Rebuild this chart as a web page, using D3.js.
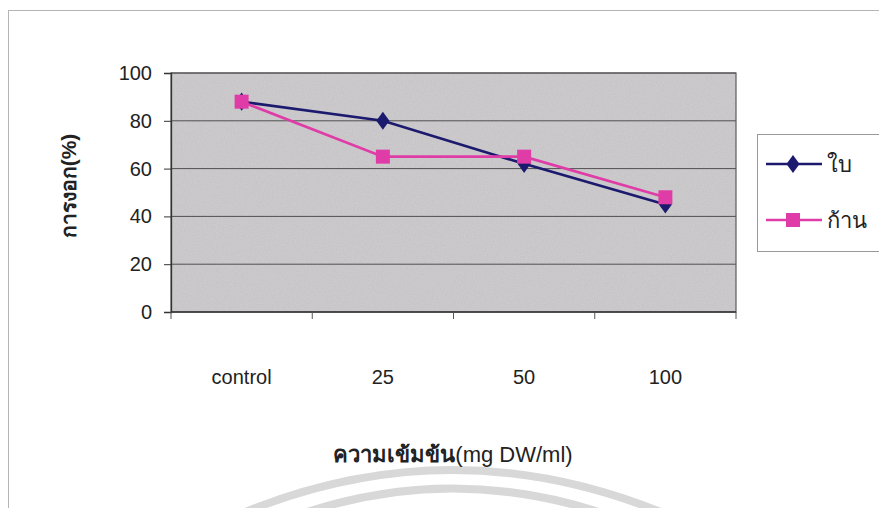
<!DOCTYPE html>
<html>
<head>
<meta charset="utf-8">
<script src="https://cdn.jsdelivr.net/npm/d3@7"></script>
<style>
  html, body { margin: 0; padding: 0; background: #fff; }
  svg { display: block; }
  text { font-family: "Liberation Sans", Arial, "Noto Sans", sans-serif; fill: #222; }
</style>
</head>
<body>
<svg id="chart" width="879" height="508"></svg>
<script>
// Germination (%) by extract concentration, leaf vs stem
const categories = ["control", "25", "50", "100"];
const leafValues = [88, 80, 62, 45];   // ใบ
const stemValues = [88, 65, 65, 48];   // ก้าน
const yTicks = [0, 20, 40, 60, 80, 100];
const seriesNames = ["ใบ", "ก้าน"];
const seriesColors = ["#1c1a6e", "#e03ca8"];

const svg = d3.select("#chart");
const W = 879, H = 508;
const plot = { left: 171, right: 736, top: 73, bottom: 312 };

// faint watermark arcs at the bottom of the page
const wm = svg.append("g").attr("fill", "none").attr("stroke", "#d8d8d8").attr("stroke-width", 8);
wm.append("path").attr("d", "M 238 515 Q 452 425 668 515");
wm.append("path").attr("d", "M 298 515 Q 452 462 608 515");

// outer chart frame
svg.append("rect").attr("x", 8.5).attr("y", 10.5).attr("width", W).attr("height", H)
  .attr("fill", "none").attr("stroke", "#b5b5b5").attr("stroke-width", 1);

const x = d3.scaleBand().domain(categories).range([plot.left, plot.right]);
const y = d3.scaleLinear().domain([0, 100]).range([plot.bottom, plot.top]);

// plot area background with a light grain
const defs = svg.append("defs");
const flt = defs.append("filter").attr("id", "grain").attr("x", 0).attr("y", 0).attr("width", 1).attr("height", 1);
flt.append("feTurbulence").attr("type", "fractalNoise").attr("baseFrequency", 0.9).attr("numOctaves", 2).attr("seed", 4).attr("result", "n");
flt.append("feColorMatrix").attr("in", "n").attr("type", "matrix")
  .attr("values", "0 0 0 0 0.80  0 0 0 0 0.79  0 0 0 0 0.80  0 0 0 0.35 0").attr("result", "c");
flt.append("feComposite").attr("in", "c").attr("in2", "SourceGraphic").attr("operator", "in").attr("result", "m");
flt.append("feMerge").selectAll("feMergeNode").data(["SourceGraphic", "m"]).enter()
  .append("feMergeNode").attr("in", d => d);

svg.append("rect")
  .attr("x", plot.left).attr("y", plot.top)
  .attr("width", plot.right - plot.left).attr("height", plot.bottom - plot.top)
  .attr("fill", "#c3c1c3").attr("filter", "url(#grain)");

// horizontal gridlines
svg.append("g").selectAll("line").data(yTicks.filter(t => t > 0)).enter().append("line")
  .attr("x1", plot.left).attr("x2", plot.right)
  .attr("y1", d => y(d)).attr("y2", d => y(d))
  .attr("stroke", "#505050").attr("stroke-width", 1);

// plot border
svg.append("rect")
  .attr("x", plot.left).attr("y", plot.top)
  .attr("width", plot.right - plot.left).attr("height", plot.bottom - plot.top)
  .attr("fill", "none").attr("stroke", "#5a5a5a").attr("stroke-width", 1.2);

// y axis
const yAxis = d3.axisLeft(y).tickValues(yTicks).tickSize(7).tickPadding(12);
const gy = svg.append("g").attr("transform", `translate(${plot.left},0)`).call(yAxis);
gy.select(".domain").attr("stroke", "#333").attr("stroke-width", 1.3);
gy.selectAll(".tick line").attr("stroke", "#333");
gy.selectAll(".tick text").attr("font-size", 20).style("fill", "#222")
  .attr("font-family", "Liberation Sans, Arial, sans-serif");

// x axis: ticks on band boundaries, labels under band centres
const gx = svg.append("g").attr("transform", `translate(0,${plot.bottom})`);
gx.append("line").attr("x1", plot.left).attr("x2", plot.right).attr("y1", 0).attr("y2", 0)
  .attr("stroke", "#333").attr("stroke-width", 1.3);
const bounds = categories.map(c => x(c)).concat([x(categories[categories.length - 1]) + x.bandwidth()]);
gx.selectAll("line.tk").data(bounds).enter().append("line").attr("class", "tk")
  .attr("x1", d => d).attr("x2", d => d).attr("y1", 0).attr("y2", 7)
  .attr("stroke", "#555");
gx.selectAll("text").data(categories).enter().append("text")
  .attr("x", d => x(d) + x.bandwidth() / 2).attr("y", 72)
  .attr("text-anchor", "middle").attr("font-size", 20).text(d => d);

// axis titles
svg.append("text").attr("transform", "translate(76,186) rotate(-90)")
  .attr("text-anchor", "middle").attr("font-size", 21).attr("font-weight", "bold")
  .text("การงอก(%)");
svg.append("text").attr("x", 453).attr("y", 462).attr("text-anchor", "middle")
  .attr("font-size", 22)
  .html('<tspan font-weight="bold">ความเข้มข้น</tspan>(mg DW/ml)');

// series
const line = d3.line().x((d, i) => x(categories[i]) + x.bandwidth() / 2).y(d => y(d));
[leafValues, stemValues].forEach((vals, si) => {
  svg.append("path").datum(vals).attr("d", line)
    .attr("fill", "none").attr("stroke", seriesColors[si]).attr("stroke-width", 2.6);
});
// leaf markers (diamond)
svg.append("g").selectAll("path").data(leafValues).enter().append("path")
  .attr("d", d3.symbol().type(d3.symbolDiamond).size(95))
  .attr("transform", (d, i) => `translate(${x(categories[i]) + x.bandwidth() / 2},${y(d)}) scale(1.25,1)`)
  .attr("fill", seriesColors[0]);
// stem markers (square)
svg.append("g").selectAll("rect").data(stemValues).enter().append("rect")
  .attr("x", (d, i) => x(categories[i]) + x.bandwidth() / 2 - 7)
  .attr("y", d => y(d) - 7).attr("width", 14).attr("height", 14)
  .attr("fill", seriesColors[1]);

// legend
const lg = svg.append("g");
lg.append("rect").attr("x", 757.5).attr("y", 134.5).attr("width", 140).attr("height", 117)
  .attr("fill", "#fff").attr("stroke", "#9a9a9a");
const rows = [164, 220];
seriesNames.forEach((name, i) => {
  const ly = rows[i];
  lg.append("line").attr("x1", 766).attr("x2", 822).attr("y1", ly).attr("y2", ly)
    .attr("stroke", seriesColors[i]).attr("stroke-width", 2.4);
  if (i === 0) {
    lg.append("path").attr("d", d3.symbol().type(d3.symbolDiamond).size(95))
      .attr("transform", `translate(793,${ly}) scale(1.25,1)`).attr("fill", seriesColors[i]);
  } else {
    lg.append("rect").attr("x", 786).attr("y", ly - 7).attr("width", 14).attr("height", 14)
      .attr("fill", seriesColors[i]);
  }
  lg.append("text").attr("x", 827).attr("y", ly + 8).attr("font-size", 22).text(name);
});
</script>
</body>
</html>
